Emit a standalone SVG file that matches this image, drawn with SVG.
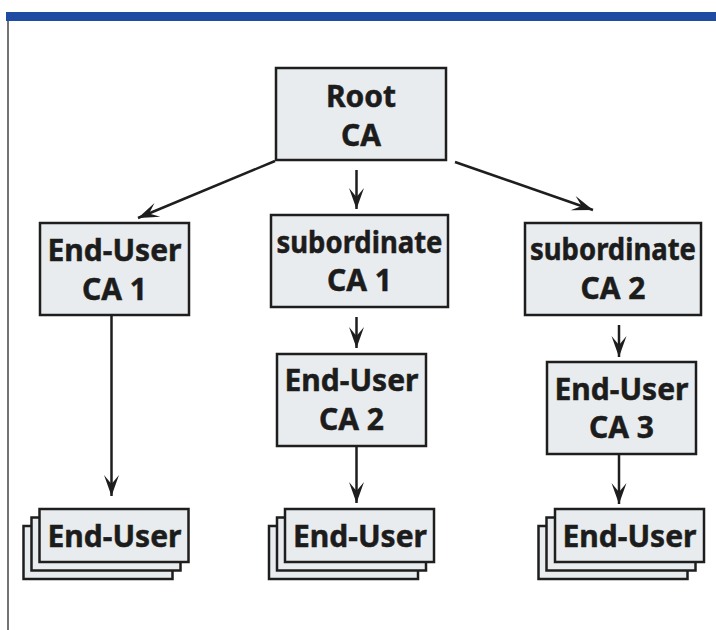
<svg xmlns="http://www.w3.org/2000/svg" width="716" height="630" viewBox="0 0 716 630">
<defs>
<style>
.box{fill:#e9ecee;stroke:#1e1e1e;stroke-width:2.5}
.t{font-family:"Noto Sans","Open Sans","DejaVu Sans",sans-serif;font-weight:bold;font-size:30px;fill:#1c1c1c;stroke:#1c1c1c;stroke-width:0.5;text-anchor:middle}
.c{stroke:#1e1e1e;stroke-width:2.5;fill:none}
</style>
<marker id="ah" markerUnits="userSpaceOnUse" viewBox="-22 -8 23 16" markerWidth="23" markerHeight="16" refX="0" refY="0" orient="auto">
<path d="M0,0 L-21,-7.5 L-12,0 L-21,7.5 Z" fill="#1e1e1e"/>
</marker>
</defs>
<rect width="716" height="630" fill="#ffffff"/>
<rect x="6" y="12" width="710" height="9" fill="#1f4ba3"/>
<line x1="8" y1="21" x2="8" y2="630" stroke="#444" stroke-width="1.5"/>

<g id="connectors">
<line class="c" x1="275" y1="161" x2="138" y2="218" marker-end="url(#ah)"/>
<line class="c" x1="356.5" y1="170" x2="356.5" y2="209" marker-end="url(#ah)"/>
<line class="c" x1="455" y1="162" x2="593" y2="210" marker-end="url(#ah)"/>
<line class="c" x1="356.5" y1="317" x2="356.5" y2="348" marker-end="url(#ah)"/>
<line class="c" x1="619" y1="325" x2="619" y2="357" marker-end="url(#ah)"/>
<line class="c" x1="111.5" y1="315" x2="111.5" y2="496" stroke-width="1.8" marker-end="url(#ah)"/>
<line class="c" x1="356.5" y1="446" x2="356.5" y2="503" marker-end="url(#ah)"/>
<line class="c" x1="619" y1="454" x2="619" y2="504" marker-end="url(#ah)"/>
</g>

<g id="root-ca">
<rect class="box" x="276" y="68" width="170" height="92"/>
<text class="t" x="361" y="107">Root</text>
<text class="t" x="361" y="146">CA</text>
</g>

<g id="end-user-ca1">
<rect class="box" x="40" y="223" width="149" height="92"/>
<text class="t" x="114.5" y="261">End-User</text>
<text class="t" x="114.5" y="300">CA 1</text>
</g>

<g id="subordinate-ca1">
<rect class="box" x="271" y="215" width="177" height="92"/>
<text class="t" x="359.5" y="253" textLength="166" lengthAdjust="spacingAndGlyphs">subordinate</text>
<text class="t" x="359.5" y="291">CA 1</text>
</g>

<g id="subordinate-ca2">
<rect class="box" x="525" y="223" width="176" height="92"/>
<text class="t" x="613" y="260" textLength="166" lengthAdjust="spacingAndGlyphs">subordinate</text>
<text class="t" x="613" y="299">CA 2</text>
</g>

<g id="end-user-ca2">
<rect class="box" x="277" y="354" width="149" height="92"/>
<text class="t" x="351.5" y="391">End-User</text>
<text class="t" x="351.5" y="430">CA 2</text>
</g>

<g id="end-user-ca3">
<rect class="box" x="547" y="362" width="149" height="92"/>
<text class="t" x="621.5" y="400">End-User</text>
<text class="t" x="621.5" y="438">CA 3</text>
</g>

<g id="end-users-1">
<rect class="box" x="23.5" y="526" width="149" height="53"/>
<rect class="box" x="31.5" y="517.5" width="149" height="53"/>
<rect class="box" x="39.5" y="509" width="149" height="53"/>
<text class="t" x="114.5" y="547">End-User</text>
</g>

<g id="end-users-2">
<rect class="box" x="269" y="526" width="149" height="53"/>
<rect class="box" x="277" y="517.5" width="149" height="53"/>
<rect class="box" x="285" y="509" width="149" height="53"/>
<text class="t" x="360" y="547">End-User</text>
</g>

<g id="end-users-3">
<rect class="box" x="538.5" y="526" width="149" height="53"/>
<rect class="box" x="546.5" y="517.5" width="149" height="53"/>
<rect class="box" x="555" y="509" width="149" height="53"/>
<text class="t" x="629.5" y="547">End-User</text>
</g>
</svg>
